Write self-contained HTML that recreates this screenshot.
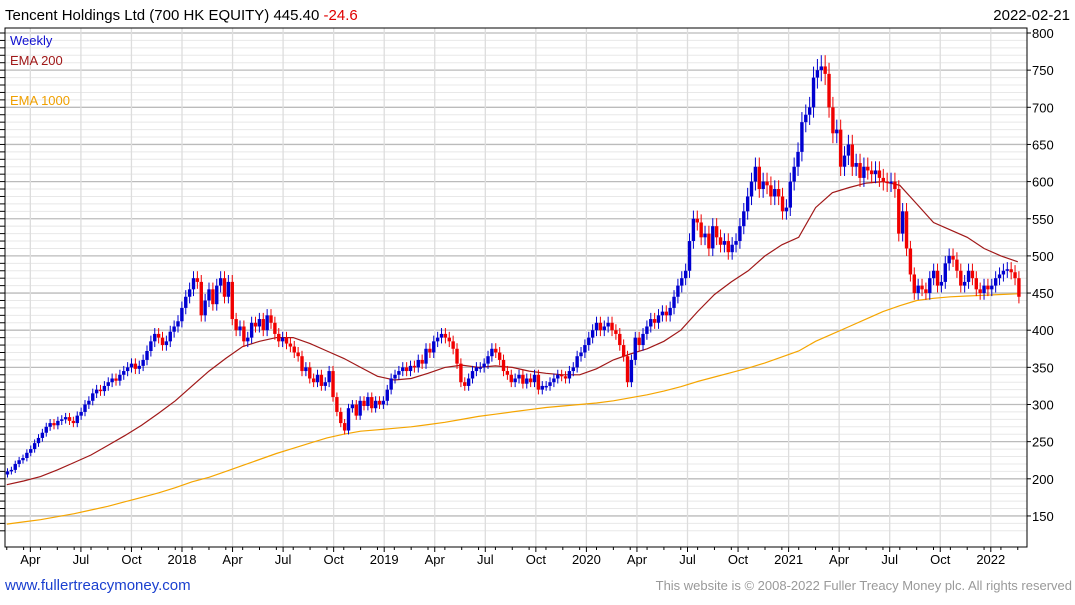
<!DOCTYPE html>
<html><head><meta charset="utf-8"><style>
body{margin:0;background:#fff;font-family:"Liberation Sans",sans-serif}
svg text{font-family:"Liberation Sans",sans-serif}
</style></head><body>
<svg id="c" width="1075" height="600">
<text x="5" y="20" font-size="15">Tencent Holdings Ltd (700 HK EQUITY) 445.40 <tspan fill="#e00000">-24.6</tspan></text>
<text x="1070" y="20" font-size="15" text-anchor="end">2022-02-21</text>
<g id="grid"></g><g id="emas"></g><g id="candles"></g><g id="axes"></g>
<text x="10" y="45" font-size="13" fill="#1010d0">Weekly</text>
<text x="10" y="65" font-size="13" fill="#a01818">EMA 200</text>
<text x="10" y="105" font-size="13" fill="#f0a000">EMA 1000</text>
<text x="5" y="590" font-size="15" fill="#1a3fcf">www.fullertreacymoney.com</text>
<text x="1072" y="590" font-size="13" fill="#999" text-anchor="end">This website is © 2008-2022 Fuller Treacy Money plc. All rights reserved</text>
</svg>
<script>
const closes=[210,212,220,225,228,235,240,248,255,262,270,275,272,278,280,283,278,275,285,290,300,305,315,320,318,325,330,335,332,340,345,350,355,348,352,360,372,385,395,390,380,385,398,405,412,
430,445,455,470,465,420,440,455,435,460,470,445,465,415,400,405,385,390,410,405,415,400,420,410,395,385,390,382,378,370,365,345,350,335,330,340,325,330,345,310,290,275,265,295,300,285,305,298,310,295,305,300,305,
320,335,340,345,350,345,352,350,360,355,375,370,385,390,395,390,385,375,355,330,325,335,345,350,350,355,365,375,370,360,345,340,330,335,340,328,335,330,340,320,325,325,330,335,340,338,335,345,350,365,370,380,
390,400,410,400,405,410,400,395,380,365,330,360,390,380,395,405,415,410,420,425,420,430,445,460,470,480,520,550,545,525,530,510,540,525,515,520,505,515,520,540,560,580,600,620,590,600,595,580,590,580,560,565,
600,620,640,680,690,700,740,750,755,745,700,665,670,620,635,650,620,625,605,620,615,610,615,605,600,598,600,590,530,560,510,475,450,460,455,450,470,480,460,465,490,500,495,480,460,465,480,470,455,450,460,455,
460,470,475,480,482,478,470,445];
const ema200=[192,197,203,212,222,232,245,258,272,288,305,325,345,362,378,385,390,390,382,372,362,350,338,333,335,342,350,353,350,352,350,345,342,340,340,348,360,368,375,385,400,425,448,465,480,500,515,525,565,585,592,598,600,595,570,545,535,525,510,500,492];
const ema1000=[139,142,145,149,153,158,163,169,175,181,188,196,202,210,218,226,234,241,248,255,260,264,266,268,270,273,276,280,284,287,290,293,296,298,300,302,305,309,313,318,324,331,337,343,349,356,364,372,385,395,405,415,425,433,440,443,445,446,447,448,449];
const yTicks=[150,200,250,300,350,400,450,500,550,600,650,700,750,800];
const xLabels=["Apr","Jul","Oct","2018","Apr","Jul","Oct","2019","Apr","Jul","Oct","2020","Apr","Jul","Oct","2021","Apr","Jul","Oct","2022"];
const NS="http://www.w3.org/2000/svg";
const L=5,R=1027,T=28,B=547;
const y=v=>33+(800-v)*0.743;
const xT=t=>182+(t-2018)*202.2;
const xI=i=>xT(2017.137+i*7/365.25);
const xM=m=>xT(2017+(1+m+0.6)/12);
function mk(tag,at,parent){const e=document.createElementNS(NS,tag);for(const k in at)e.setAttribute(k,at[k]);parent.appendChild(e);return e;}
const grid=document.getElementById('grid'),axes=document.getElementById('axes'),cg=document.getElementById('candles'),eg=document.getElementById('emas');
for(let v=130;v<=800;v+=10){const l=mk('line',{x1:L,x2:R,y1:y(v),y2:y(v),stroke:v%50==0?'#bbb':'#e8e8e8','stroke-width':v%50==0?1.3:1},grid);

}
xLabels.forEach((s,k)=>{const t=2017.25+k*0.25;const x=xT(t);
const l=mk('line',{x1:x,x2:x,y1:T,y2:B,stroke:'#ddd','stroke-width':1.3},grid);


const tx=mk('text',{x:x,y:564,'font-size':13,'text-anchor':'middle'},axes);tx.textContent=s;


mk('line',{x1:x,x2:x,y1:B,y2:B+5,stroke:'#000'},axes);});
yTicks.forEach(v=>{const tx=mk('text',{x:1032,y:y(v)+5,'font-size':13},axes);tx.textContent=v;


mk('line',{x1:R,x2:R+4,y1:y(v),y2:y(v),stroke:'#000'},axes);});
for(let v=130;v<=800;v+=10)mk('line',{x1:0,x2:L,y1:y(v),y2:y(v),stroke:'#000'},axes);
for(let m=0;m<61;m++){const x=xM(m);mk('line',{x1:x,x2:x,y1:B,y2:B+3,stroke:'#000'},axes);}
const frame=mk('rect',{x:L,y:T,width:R-L,height:B-T,fill:'none',stroke:'#000'},axes);


function line(arr,col,name){const p=arr.map((v,m)=>(m?'L':'M')+xM(m).toFixed(1)+','+y(v).toFixed(1)).join('');
const e=mk('path',{d:p,fill:'none',stroke:col,'stroke-width':1.2},eg);

}
line(ema1000,'#f5a500','ema-1000-line');line(ema200,'#a01818','ema-200-line');
closes.forEach((c,i)=>{const o=i?closes[i-1]:c*0.98;const up=c>=o;const col=up?'#0000d0':'#f00000';
const hi=Math.max(o,c)*1.02,lo=Math.min(o,c)*0.98;const x=xI(i);
const g=mk('g',{},cg);


mk('line',{x1:x,x2:x,y1:y(hi),y2:y(lo),stroke:col,'stroke-width':1},g);
const h=Math.max(1.5,Math.abs(y(o)-y(c)));
mk('rect',{x:x-1.7,y:Math.min(y(o),y(c)),width:3.4,height:h,fill:col},g);});
</script>
</body></html>
